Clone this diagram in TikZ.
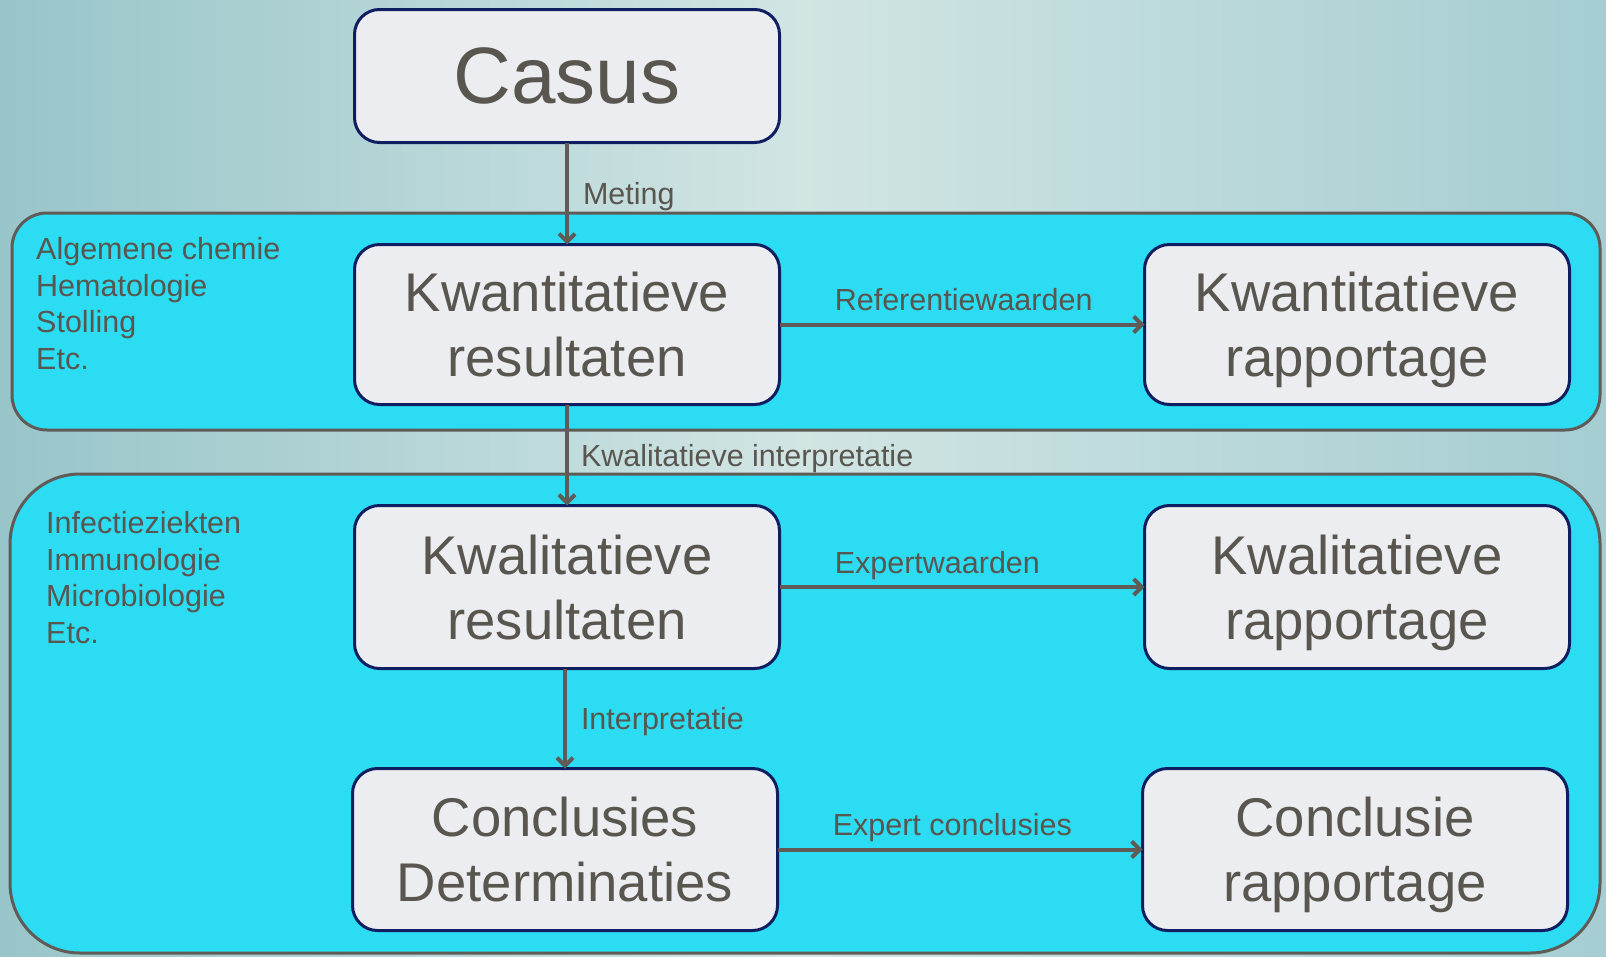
\documentclass[tikz,border=0pt]{standalone}
\usepackage{fontspec}
\setmainfont{Liberation Sans}
\usetikzlibrary{positioning, arrows.meta}
\definecolor{bgmid}{RGB}{209,229,227}
\definecolor{bgside}{RGB}{152,197,201}
\definecolor{bgright}{RGB}{165,205,210}
\definecolor{bandfill}{RGB}{44,220,242}
\definecolor{bandline}{RGB}{96,91,86}
\definecolor{boxfill}{RGB}{236,237,240}
\definecolor{boxline}{RGB}{14,30,96}
\definecolor{txt}{RGB}{89,85,79}

\begin{document}
\begin{tikzpicture}[x=1pt, y=-1pt,
      box/.style={draw=boxline, line width=3pt, fill=boxfill, rounded corners=25pt, outer sep=0pt,
                  text=txt, align=center, inner sep=0pt, minimum width=425pt},
      big/.style={box, font=\fontsize{54.5}{65}\selectfont, minimum height=160pt, text depth=0pt},
      band/.style={draw=bandline, line width=3pt, fill=bandfill},
      side/.style={anchor=north west, align=left, inner sep=0pt, text=txt,
                   font=\fontsize{30.5}{36.8}\selectfont},
      lbl/.style={text=txt, inner sep=0pt, font=\fontsize{30.5}{36}\selectfont},
      arr/.style={-{Straight Barb[length=8pt, width=16pt]}, draw=bandline, line width=4pt},
      node distance=102pt and 365pt,
   ]
   \useasboundingbox (0,0) rectangle (1606,956);
   \fill[left color=bgside, right color=bgright, middle color=bgmid] (0,0) rectangle (1606,956);

   \node[band, rounded corners=35pt, minimum width=1588pt, minimum height=217pt] (grp1) at (806,321.5) {};
   \node[band, rounded corners=70pt, minimum width=1590pt, minimum height=479pt] (grp2) at (805,713.5) {};

   \node[side] (lab1) at (36,237) {Algemene chemie\\Hematologie\\Stolling\\Etc.};
   \node[side] (lab2) at (46,511) {Infectieziekten\\Immunologie\\Microbiologie\\Etc.};

   \node[box, font=\fontsize{80}{90}\selectfont, minimum height=133pt] (casus) at (567,76) {Casus};
   \node[big, below=102pt of casus] (kwant) {Kwantitatieve\\resultaten};
   \node[big, right=of kwant] (kwantrap) {Kwantitatieve\\rapportage};
   \node[big, below=101pt of kwant, minimum height=163pt] (kwal) {Kwalitatieve\\resultaten};
   \node[big, right=of kwal, minimum height=163pt] (kwalrap) {Kwalitatieve\\rapportage};
   \node[big, below=100pt of kwal, xshift=-2pt, minimum height=162pt] (concl) {Conclusies\\Determinaties};
   \node[big, right=of concl, minimum height=162pt] (conclrap) {Conclusie\\rapportage};

   \draw[arr] (casus) -- node[lbl, anchor=base west, xshift=14pt, yshift=-11pt] {Meting} (kwant);
   \draw[arr] (kwant) -- node[lbl, anchor=base west, xshift=12pt, yshift=-11pt] {Kwalitatieve interpretatie} (kwal);
   \draw[arr] (concl.north |- kwal.south) -- node[lbl, anchor=base west, xshift=14pt, yshift=-11pt] {Interpretatie} (concl.north);

   \draw[arr] (kwant) -- node[lbl, anchor=base west, pos=0.146, yshift=14pt] {Referentiewaarden} (kwantrap);
   \draw[arr] (kwal) -- node[lbl, anchor=base west, pos=0.146, yshift=14pt] {Expertwaarden} (kwalrap);
   \draw[arr] (concl) -- node[lbl, anchor=base west, pos=0.146, yshift=14pt] {Expert conclusies} (conclrap);

\end{tikzpicture}
\end{document}
